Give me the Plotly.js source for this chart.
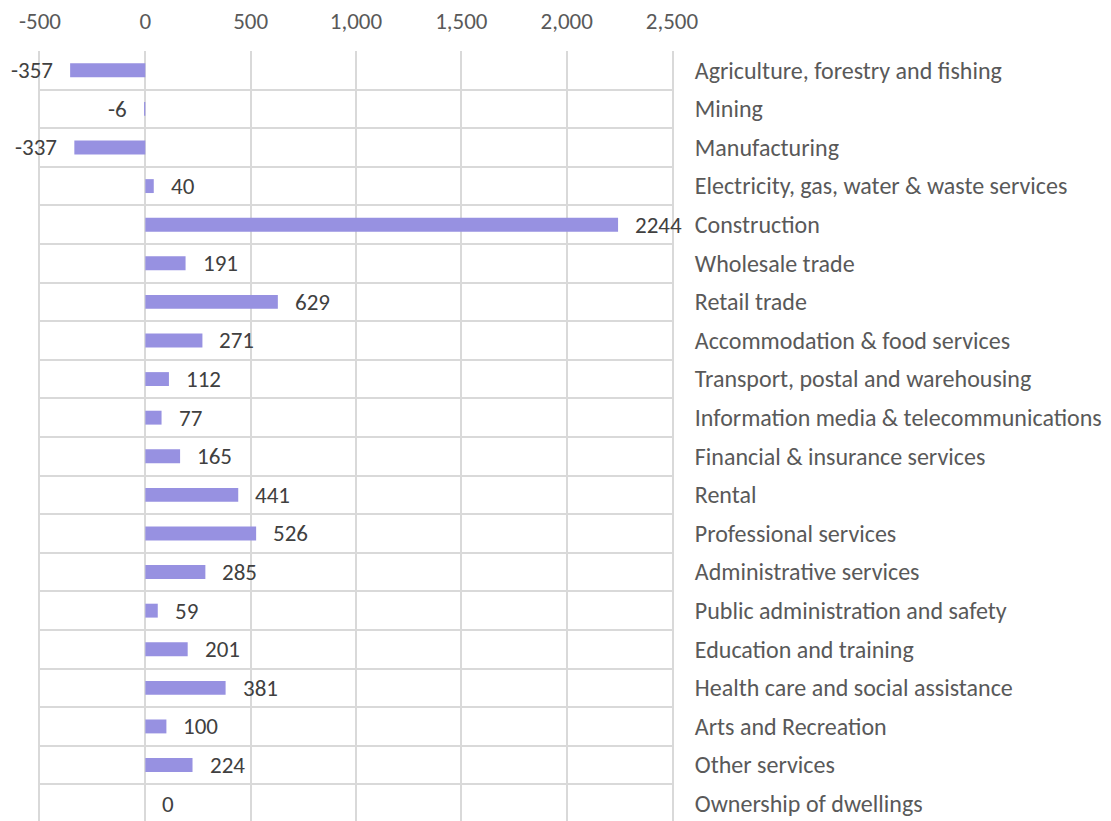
<!DOCTYPE html>
<html>
<head>
<meta charset="utf-8">
<script src="https://cdn.plot.ly/plotly-3.0.1.min.js"></script>
<style>
  html, body { margin: 0; padding: 0; background: #fff; }
  #plot { width: 1111px; height: 821px; }
</style>
</head>
<body>
<div id="plot"></div>
<script>
  // --- data: change in employment by industry ---
  const industries = [
    'Agriculture, forestry and fishing',
    'Mining',
    'Manufacturing',
    'Electricity, gas, water & waste services',
    'Construction',
    'Wholesale trade',
    'Retail trade',
    'Accommodation & food services',
    'Transport, postal and warehousing',
    'Information media & telecommunications',
    'Financial & insurance services',
    'Rental',
    'Professional services',
    'Administrative services',
    'Public administration and safety',
    'Education and training',
    'Health care and social assistance',
    'Arts and Recreation',
    'Other services',
    'Ownership of dwellings'
  ];
  const change = [-357, -6, -337, 40, 2244, 191, 629, 271, 112, 77,
                  165, 441, 526, 285, 59, 201, 381, 100, 224, 0];

  const xTickVals = [-500, 0, 500, 1000, 1500, 2000, 2500];
  const xTickText = ['-500', '0', '500', '1,000', '1,500', '2,000', '2,500'];

  const FONT = 'Calibri, Carlito, Lato, sans-serif';

  // value labels sit ~16px beyond the bar end
  const labels = change.map((v, i) => ({
    x: v, y: industries[i], xref: 'x', yref: 'y',
    text: String(v), showarrow: false,
    xanchor: v < 0 ? 'right' : 'left',
    xshift: v < 0 ? -15 : 15,
    font: { family: FONT, size: 23, color: '#404040' }
  }));

  Plotly.newPlot('plot', [{
    type: 'bar', orientation: 'h',
    x: change, y: industries,
    width: 0.36,
    marker: { color: '#9791e1', line: { width: 0 } },
    hoverinfo: 'x+y'
  }], {
    width: 1111, height: 821,
    margin: { l: 40, r: 439, t: 51, b: 0 },
    paper_bgcolor: '#fff', plot_bgcolor: '#fff',
    showlegend: false,
    xaxis: {
      side: 'top', range: [-500, 2500], fixedrange: true,
      tickvals: xTickVals, ticktext: xTickText,
      showgrid: true, gridcolor: '#d9d9d9', gridwidth: 2,
      zeroline: false, ticks: '', ticklabelstandoff: 16,
      tickfont: { family: FONT, size: 23, color: '#595959' }
    },
    yaxis: {
      type: 'category', side: 'right',
      range: [19.45, -0.5], fixedrange: true,
      tickson: 'boundaries', ticks: '',
      showgrid: true, gridcolor: '#d9d9d9', gridwidth: 2,
      showline: true, mirror: true, linecolor: '#d9d9d9', linewidth: 2,
      zeroline: false, ticklabelstandoff: 16,
      tickfont: { family: FONT, size: 24, color: '#595959' }
    },
    annotations: labels
  }, { displayModeBar: false, staticPlot: true });
</script>
</body>
</html>
